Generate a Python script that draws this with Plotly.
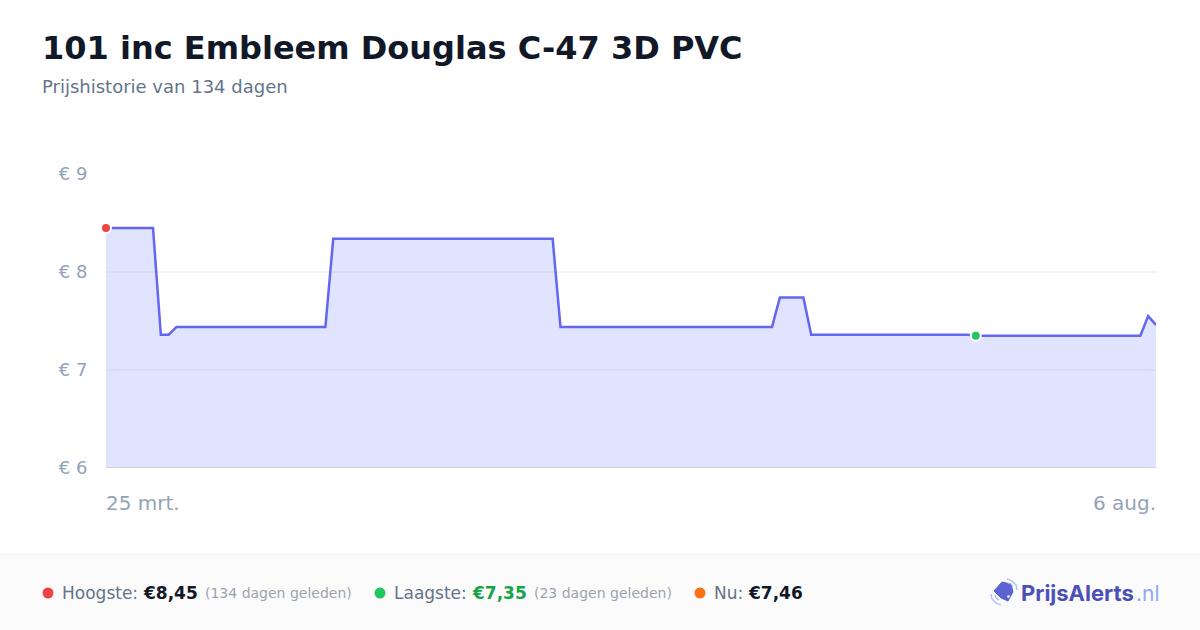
import plotly.graph_objects as go

dates = ["2025-03-25","2025-03-31","2025-04-01","2025-04-02","2025-04-03","2025-04-22","2025-04-23",
         "2025-05-21","2025-05-22","2025-06-18","2025-06-19","2025-06-22","2025-06-23","2025-07-13","2025-07-14",
         "2025-08-04","2025-08-05","2025-08-06"]
prices = [8.45,8.45,7.36,7.36,7.44,7.44,8.34,8.34,7.44,7.44,7.74,7.74,7.36,7.36,7.35,7.35,7.55,7.46]
y_ticks = [6,7,8,9]
y_tick_labels = ["€ 6","€ 7","€ 8","€ 9"]
x_labels = ["25 mrt.","6 aug."]
title = "101 inc Embleem Douglas C-47 3D PVC"
subtitle = "Prijshistorie van 134 dagen"

W, H = 1200, 630
F = "DejaVu Sans"
px = lambda x: x / W
py = lambda y: 1 - y / H

fig = go.Figure()
fig.add_trace(go.Scatter(x=dates, y=prices, mode="lines", fill="tozeroy", fillcolor="rgba(100,120,255,0.2)",
                         line=dict(color="#6366f1", width=2.5, shape="linear"), hoverinfo="skip", showlegend=False))
hi = prices.index(max(prices))
lo = prices.index(min(prices))
fig.add_trace(go.Scatter(x=[dates[hi], dates[lo]], y=[prices[hi], prices[lo]], mode="markers", cliponaxis=False,
                         marker=dict(size=10, color=["#ef4444", "#22c55e"], line=dict(color="white", width=2)),
                         hoverinfo="skip", showlegend=False))

shapes = [
    dict(type="rect", xref="paper", yref="paper", x0=0, x1=1, y0=0, y1=py(554.5), fillcolor="#fbfbfb",
         line=dict(width=0), layer="below"),
    dict(type="line", xref="paper", yref="paper", x0=0, x1=1, y0=py(554.5), y1=py(554.5),
         line=dict(color="#f3f4f6", width=1), layer="below"),
    dict(type="line", xref="x", yref="y", x0=dates[0], x1=dates[-1], y0=6, y1=6,
         line=dict(color="#e5e7eb", width=2), layer="below"),
]
def dot(cx, cy, r, color):
    shapes.append(dict(type="circle", xref="paper", yref="paper", x0=px(cx-r), x1=px(cx+r), y0=py(cy+r), y1=py(cy-r),
                       fillcolor=color, line=dict(width=0)))
dot(48, 593, 5.5, "#ef4444")
dot(380, 593, 5.5, "#22c55e")
dot(700, 593, 5.5, "#f97316")

def path(points, close=True):
    s = " ".join(("M" if i == 0 else "L") + f"{px(a):.5f},{py(b):.5f}" for i, (a, b) in enumerate(points))
    return s + (" Z" if close else "")
shapes.append(dict(type="path", xref="paper", yref="paper", path=path([(1002,582),(1011,584),(1013,592),(1008,601),(1001,598),(994,591)]),
                   fillcolor="#5b63d3", line=dict(color="#5b63d3", width=1)))
dot(1008.5, 596.5, 1.3, "#ffffff")
for pts in ([(1007,579),(1012,581),(1016,585),(1017,590)], [(1008,583),(1011,584),(1013,587)],
            [(991,594),(992,599),(996,603),(1001,605)], [(995,595),(996,598),(999,600)]):
    shapes.append(dict(type="path", xref="paper", yref="paper", path=path(pts, close=False),
                       line=dict(color="#a5b8fa", width=1.2)))

ann = []
def text(x, y, t, size, color, anchor="left", bold=False, family=F):
    ann.append(dict(xref="paper", yref="paper", x=px(x), y=py(y), text=f"<b>{t}</b>" if bold else t, showarrow=False,
                    xanchor=anchor, yanchor="middle", borderpad=0, borderwidth=0,
                    font=dict(family=family, size=size, color=color)))
text(42, 48, title, 32, "#111827", bold=True)
text(42, 87, subtitle, 18, "#64748b")
text(106, 503, x_labels[0], 20, "#94a3b8")
text(1156, 503, x_labels[1], 20, "#94a3b8", anchor="right")
text(62, 593, "Hoogste:", 17, "#64748b")
text(142.5, 593, "€8,45", 17, "#111827", bold=True)
text(205, 593, "(134 dagen geleden)", 14, "#9ca3af")
text(394, 593, "Laagste:", 17, "#64748b")
text(471.5, 593, "€7,35", 17, "#16a34a", bold=True)
text(534, 593, "(23 dagen geleden)", 14, "#9ca3af")
text(714, 593, "Nu:", 17, "#64748b")
text(747.5, 593, "€7,46", 17, "#111827", bold=True)
text(1021, 593, "PrijsAlerts", 22, "#4a50b8", bold=True, family="Inter")
text(1135.5, 593, ".nl", 21, "#8fa8f8", family="Inter")

fig.update_layout(
    template=None,
    width=W, height=H, autosize=False, margin=dict(l=0, r=0, t=0, b=0, pad=0),
    paper_bgcolor="white", plot_bgcolor="white", showlegend=False, shapes=shapes, annotations=ann,
    xaxis=dict(domain=[px(106), px(1156)], type="date", range=[dates[0], dates[-1]], showgrid=False, zeroline=False,
               showticklabels=False, ticks="", showline=False, automargin=False),
    yaxis=dict(domain=[py(468), py(174)], range=[6, 9], tickvals=y_ticks, ticktext=y_tick_labels, showgrid=True,
               gridcolor="#f5f6f8", gridwidth=2, zeroline=False, showline=False, ticks="outside", ticklen=14,
               tickcolor="rgba(0,0,0,0)", tickfont=dict(family=F, size=18, color="#94a3b8"), automargin=False),
    font=dict(family=F),
)
fig.write_html("out.html", config={"displayModeBar": False}, post_script="document.body.style.margin='0';")
